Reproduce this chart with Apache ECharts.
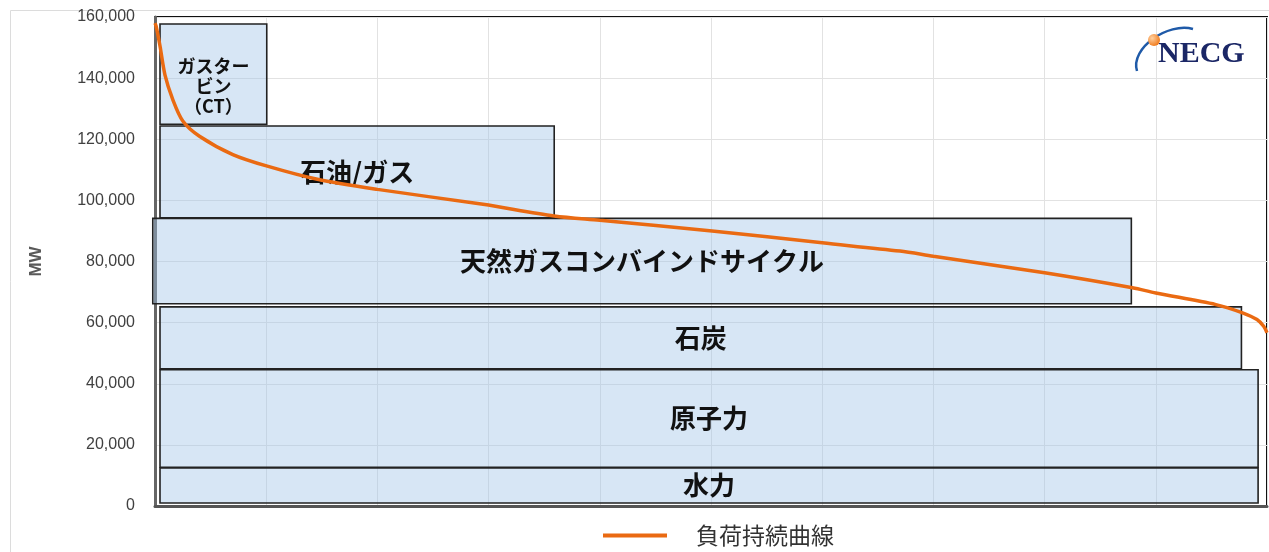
<!DOCTYPE html>
<html>
<head>
<meta charset="utf-8">
<script src="https://cdn.jsdelivr.net/npm/echarts@6/dist/echarts.min.js"></script>
<style>
html,body{margin:0;padding:0;background:#fff;}
#chart{width:1269px;height:552px;}
</style>
</head>
<body>
<div id="chart"></div>
<script>
// ---- Data ----
const yTicks = [0, 20000, 40000, 60000, 80000, 100000, 120000, 140000, 160000];
const boxNames = ['水力', '原子力', '石炭', '天然ガスコンバインドサイクル', '石油/ガス', 'ガスター\nビン\n（CT）'];
const boxXStart = [0.45, 0.45, 0.45, -0.2, 0.45, 0.45];
const boxXEnd = [99.2, 99.2, 97.7, 87.8, 35.9, 10.05];
const boxYLow = [1000, 12700, 44900, 66200, 94300, 124900];
const boxYHigh = [12450, 44600, 65150, 94100, 124350, 157700];
const curveX = [0, 0.1, 0.45, 0.9, 1.6, 2.5, 4.0, 7.0, 10.1, 14.6, 20.0, 29.5, 35.9, 40, 50.1, 60, 67, 70, 80, 87.9, 90, 95.4, 97.8, 99.1, 99.7, 100];
const curveY = [158000, 157000, 150500, 141000, 133000, 126000, 121000, 115000, 111200, 106900, 103600, 98700, 94900, 93500, 90000, 86100, 83400, 81700, 76300, 71400, 69700, 65900, 63200, 61000, 58800, 56700];
const seriesName = '負荷持続曲線';

const boxData = boxNames.map((n, i) => [boxXStart[i], boxXEnd[i], boxYLow[i], boxYHigh[i], i]);
const curveData = curveX.map((x, i) => [x, curveY[i]]);

const chart = echarts.init(document.getElementById('chart'));
const option = {
  animation: false,
  backgroundColor: '#fff',
  grid: {
    left: 155, right: 2, top: 17, bottom: 46,
    show: true, borderColor: '#111', borderWidth: 2, backgroundColor: 'transparent'
  },
  xAxis: {
    type: 'value', min: 0, max: 100, interval: 10,
    axisLabel: { show: false }, axisTick: { show: false },
    axisLine: { show: true, lineStyle: { color: '#555', width: 3 } },
    splitLine: { show: true, lineStyle: { color: '#e2e2e2', width: 1 } }
  },
  yAxis: {
    type: 'value', min: 0, max: 160000, interval: 20000,
    name: 'MW', nameLocation: 'middle', nameGap: 110,
    nameTextStyle: { fontFamily: 'Liberation Sans', fontSize: 17, fontWeight: 'bold', color: '#595959' },
    axisLabel: {
      margin: 20, fontFamily: 'Liberation Sans', fontSize: 16, color: '#404040',
      formatter: v => yTicks.includes(v) ? v.toLocaleString('en-US') : ''
    },
    axisTick: { show: false },
    axisLine: { show: true, lineStyle: { color: '#666', width: 3 } },
    splitLine: { show: true, lineStyle: { color: '#e2e2e2', width: 1 } }
  },
  legend: {
    data: [{ name: seriesName, icon: 'rect' }],
    left: 598, top: 519,
    itemWidth: 64, itemHeight: 4, itemGap: 10,
    textStyle: { fontFamily: 'Noto Sans CJK JP', fontSize: 23, color: '#333', padding: [6, 0, 0, 24] }
  },
  graphic: [
    { type: 'rect', z: -10, shape: { x: 10.5, y: 10.5, width: 1300, height: 600 }, style: { fill: 'none', stroke: '#dcdcdc', lineWidth: 1 } },
    { type: 'bezierCurve', z: 100, shape: { x1: 1137, y1: 71, cpx1: 1130, cpy1: 48, cpx2: 1168, cpy2: 22, x2: 1193, y2: 29 }, style: { stroke: '#1f5aa8', lineWidth: 2.5, fill: 'none' } },
    { type: 'text', z: 100, left: 1158, top: 39, style: { text: 'NECG', font: 'bold 30px "Liberation Serif"', fill: '#1b2766' } },
    { type: 'circle', z: 101, shape: { cx: 1154, cy: 40, r: 6 }, style: { fill: new echarts.graphic.RadialGradient(0.35, 0.35, 0.7, [{ offset: 0, color: '#ffd0a0' }, { offset: 1, color: '#f07a1a' }]) } }
  ],
  series: [
    {
      type: 'custom',
      name: 'boxes',
      clip: false,
      data: boxData,
      encode: { x: [0, 1], y: [2, 3] },
      z: 2,
      renderItem: function (params, api) {
        const p0 = api.coord([api.value(0), api.value(3)]);
        const p1 = api.coord([api.value(1), api.value(2)]);
        const idx = api.value(4);
        const isCT = idx === 5;
        return {
          type: 'rect',
          shape: { x: p0[0], y: p0[1], width: p1[0] - p0[0], height: p1[1] - p0[1] },
          style: { fill: 'rgba(160,196,232,0.42)', stroke: '#222', lineWidth: 1.6 },
          textContent: {
            type: 'text',
            style: {
              text: boxNames[idx],
              fontFamily: 'Noto Sans CJK JP',
              fontWeight: 'bold',
              fontSize: isCT ? 18 : 26,
              lineHeight: isCT ? 20 : 30,
              fill: '#111',
              align: 'center'
            }
          },
          textConfig: { position: 'inside', offset: isCT ? [0, 12] : [0, 0] }
        };
      }
    },
    {
      type: 'line',
      name: seriesName,
      data: curveData,
      smooth: 0.3,
      showSymbol: false,
      symbol: 'none',
      z: 5,
      color: '#ea6a12',
      lineStyle: { color: '#ea6a12', width: 3.5 }
    }
  ]
};
chart.setOption(option);
</script>
</body>
</html>
